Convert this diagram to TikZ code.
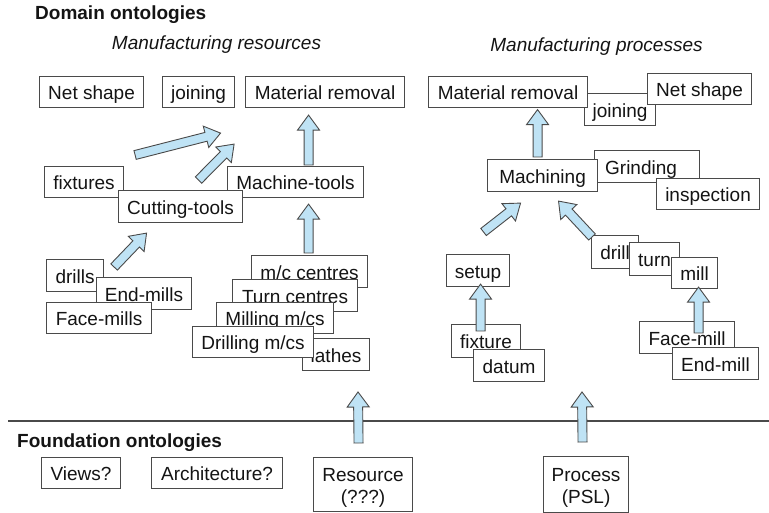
\documentclass[tikz,border=0pt]{standalone}
\usepackage{fontspec}
\setmainfont{Liberation Sans}
\usetikzlibrary{calc}
\definecolor{arrowfill}{HTML}{BFE3F5}
\definecolor{edge}{HTML}{4A4A4A}
\definecolor{ink}{HTML}{141414}
\tikzset{
  box/.style={draw=edge, line width=1.1pt, fill=white, inner sep=0pt, anchor=north west,
    text height=15pt, text depth=0pt, font=\fontsize{19}{23}\selectfont, text=ink},
  twobox/.style={draw=edge, line width=1.1pt, fill=white, inner sep=0pt, anchor=north west,
    align=center, font=\fontsize{19}{22.5}\selectfont, text=ink},
  blockarrow/.style={draw=edge, line width=0.9pt, fill=arrowfill, line join=miter},
  title/.style={font=\fontsize{19}{23}\selectfont\bfseries, text=ink, anchor=base west, inner sep=0pt},
  subtitle/.style={font=\fontsize{19}{23}\selectfont\itshape, text=ink, anchor=base, inner sep=0pt},
  rule/.style={draw=edge, line width=1.3pt},
}
\newcommand{\bx}[6]{%
  \pgfmathsetmacro{\bw}{#4-#2}\pgfmathsetmacro{\bh}{#5-#3}%
  \node[box, minimum width=\bw pt, minimum height=\bh pt] (#1) at (#2,#3) {#6};}
\newcommand{\barrow}[2]{%
  \coordinate (ba-n) at ($(#2)!15pt!(#1)$);
  \draw[blockarrow] ($(#1)!4.5pt!90:(#2)$) -- ($(ba-n)!4.5pt!90:(#2)$) -- ($(ba-n)!11pt!90:(#2)$)
    -- (#2) -- ($(ba-n)!11pt!-90:(#2)$) -- ($(ba-n)!4.5pt!-90:(#2)$) -- ($(#1)!4.5pt!-90:(#2)$) -- cycle;}
\begin{document}
\begin{tikzpicture}[x=1pt, y=-1pt]
\useasboundingbox (0,0) rectangle (769,513);
\fill[white] (0,0) rectangle (769,513);

% titles
\node[title] (domain) at (35,20) {Domain ontologies};
\node[subtitle] (resT) at (216.5,50) {Manufacturing resources};
\node[subtitle] (procT) at (596.5,52) {Manufacturing processes};
\node[title] (found) at (17,447) {Foundation ontologies};

% left: resources
\bx{netL}{39}{76}{143}{107}{Net shape}
\bx{joinL}{162}{76}{234}{107}{joining}
\bx{mrL}{245}{76}{404}{107}{Material removal}
\bx{fixtures}{44}{166}{123}{197}{fixtures}
\bx{mt}{227}{166}{363}{197}{Machine-tools}
\bx{ct}{118}{190}{242}{222}{Cutting-tools}
\bx{drills}{46}{259}{103}{291}{drills}
\bx{endmills}{96}{277}{191}{309}{End-mills}
\bx{facemills}{46}{302}{151}{333}{Face-mills}
\bx{lathes}{302}{338}{369}{370}{lathes}
\bx{mcc}{251}{255}{367}{287}{m/c centres}
\bx{turnc}{232}{279}{357}{311}{Turn centres}
\bx{millmc}{216}{302}{333}{333}{Milling m/cs}
\bx{drillmc}{192}{326}{313}{357}{Drilling m/cs}

% right: processes
\bx{joinR}{584}{93}{655}{125}{joining}
\bx{mrR}{428}{76}{587}{107}{Material removal}
\bx{netR}{647}{73}{751}{104}{Net shape}
\bx{grinding}{594}{150}{699}{182}{\hspace*{-12pt}Grinding}
\bx{machining}{487}{159}{597}{191}{Machining}
\bx{inspection}{656}{178}{759}{209}{inspection}
\bx{setup}{446}{254}{509}{286}{setup}
\bx{fixtureR}{451}{324}{520}{357}{fixture}
\bx{datum}{473}{349}{544}{381}{datum}
\bx{drill}{591}{235}{638}{268}{drill}
\bx{turn}{629}{242}{679}{275}{turn}
\bx{mill}{671}{257}{717}{288}{mill}
\bx{facemill}{639}{321}{734}{353}{Face-mill}
\bx{endmill}{672}{347}{758}{379}{End-mill}

% foundation
\bx{views}{41}{457}{120}{488}{Views?}
\bx{arch}{151}{457}{282}{488}{Architecture?}
\node[twobox, minimum width=99pt, minimum height=54pt] (resource) at (313,457) {\rule{0pt}{20pt}Resource\\(???)};
\node[twobox, minimum width=85pt, minimum height=56pt] (process) at (543,456) {\rule{0pt}{20pt}Process\\(PSL)};

% separator
\coordinate (lineL) at (8,421);
\coordinate (lineR) at (769,421);
\draw[rule] (lineL) -- (lineR);

% arrow end points
\coordinate (a1s) at ($(mt.north)+(13,-1)$);
\coordinate (a1e) at ($(mrL.south)+(-16.5,7)$);
\coordinate (a2s) at ($(fixtures.north east)+(11,-11)$);
\coordinate (a2e) at ($(joinL.south)+(22,25)$);
\coordinate (a3s) at ($(ct.north)+(18,-10)$);
\coordinate (a3e) at ($(joinL.south east)+(-1,36)$);
\coordinate (a4s) at ($(drills.north east)+(10,8)$);
\coordinate (a4e) at ($(ct.south)+(-34,10)$);
\coordinate (a5s) at ($(mcc.north)+(-1,-2)$);
\coordinate (a5e) at ($(mt.south)+(13,6)$);
\coordinate (a6s) at ($(setup.north)+(5.5,-22)$);
\coordinate (a6e) at ($(machining.south)+(-22,11)$);
\coordinate (a7s) at ($(drill.north west)+(1,2)$);
\coordinate (a7e) at ($(machining.south)+(16,9)$);
\coordinate (a8s) at ($(machining.north)+(-5,-2)$);
\coordinate (a8e) at ($(mrR.south)+(29.5,1.5)$);
\coordinate (a9s) at ($(fixtureR.north)+(-5.5,7)$);
\coordinate (a9e) at ($(setup.south)+(2.5,-3)$);
\coordinate (a10s) at ($(facemill.north)+(11.5,12)$);
\coordinate (a10e) at ($(mill.south)+(4,-2)$);
\coordinate (a11s) at ($(resource.north)+(-4.5,-14)$);
\coordinate (a11e) at (358,392);
\coordinate (a12s) at ($(process.north)+(-3.5,-14)$);
\coordinate (a12e) at (582,392);

\barrow{a1s}{a1e}
\barrow{a2s}{a2e}
\barrow{a3s}{a3e}
\barrow{a4s}{a4e}
\barrow{a5s}{a5e}
\barrow{a6s}{a6e}
\barrow{a7s}{a7e}
\barrow{a8s}{a8e}
\barrow{a9s}{a9e}
\barrow{a10s}{a10e}
\barrow{a11s}{a11e}
\barrow{a12s}{a12e}
\end{tikzpicture}
\end{document}
